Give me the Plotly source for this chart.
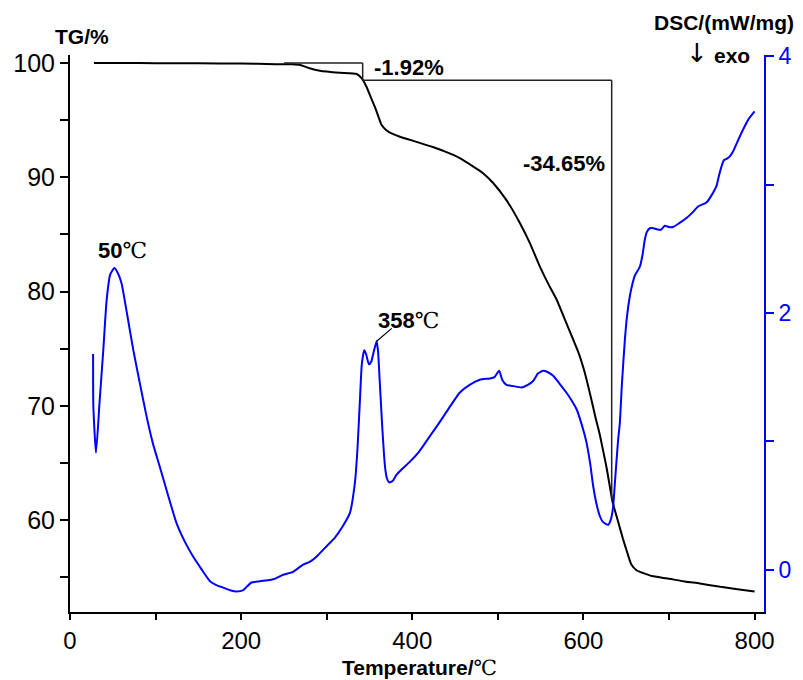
import plotly.graph_objects as go

# ---- data ----
tg_temp = [28, 60, 100, 150, 200, 240, 260, 269, 280, 292, 315, 335, 341, 346.6, 351, 356, 360, 364,
           370, 377, 385.5, 405, 424, 440, 455, 470, 482, 494.5, 510, 525.7, 537, 549, 558, 568.6,
           578, 588, 594, 599.7, 604, 609.4, 614, 619, 627, 634, 640, 646, 651, 656, 662, 670, 680,
           697, 720, 736, 760, 780, 800]
tg_val = [100.0, 100.0, 99.98, 99.97, 99.95, 99.9, 99.88, 99.82, 99.54, 99.33, 99.15, 99.04, 98.66,
          97.9, 97.1, 96.2, 95.4, 94.6, 94.1, 93.8, 93.55, 93.1, 92.65, 92.2, 91.7, 91.0, 90.4, 89.5,
          88.0, 86.0, 84.3, 82.2, 80.8, 79.3, 77.6, 75.8, 74.7, 73.4, 72.2, 70.5, 69.0, 67.5, 64.6,
          61.6, 60.0, 58.4, 57.2, 56.1, 55.6, 55.35, 55.1, 54.9, 54.6, 54.45, 54.15, 53.95, 53.75]

dsc_temp = [27.0, 27.3, 30.4, 34.5, 38.9, 42.8, 47.0, 51.8, 56.0, 60.3, 67, 74, 82, 89.6, 97, 105, 115,
            124.6, 134, 144, 153, 163.6, 171, 179, 187, 194.7, 202.5, 207, 212, 222, 233.6, 240, 249,
            260, 272.5, 280, 288, 298, 309.6, 318, 327, 333, 336, 338.8, 341, 343.8, 346, 349.3, 352,
            355, 358.3, 360, 362, 365, 368, 370, 373, 377, 381.6, 389, 397, 408, 420.6, 432, 444,
            455.6, 467, 479, 490.7, 496, 501.5, 505, 510, 518, 527.7, 535, 541.2, 547, 553, 558,
            564.6, 572, 580, 586, 592, 598, 603.6, 608, 611.4, 615, 619, 623, 628.9, 632, 634.7, 637,
            640.5, 642.5, 645, 648.4, 651, 654.2, 657, 660, 665.9, 669, 671.7, 674, 677.6, 682, 687.3,
            691, 695, 700, 704.8, 712, 720.4, 727, 734, 743.8, 750, 755.5, 758, 761.3, 764, 767.2,
            771, 775, 781, 786.6, 793, 800]
dsc_val = [1.68, 1.27, 0.91, 1.30, 1.71, 2.10, 2.30, 2.35, 2.31, 2.23, 1.98, 1.71, 1.44, 1.19, 0.98,
           0.80, 0.57, 0.36, 0.22, 0.10, 0.01, -0.09, -0.12, -0.14, -0.16, -0.17, -0.16, -0.13, -0.10,
           -0.09, -0.08, -0.07, -0.04, -0.02, 0.04, 0.06, 0.10, 0.17, 0.25, 0.33, 0.44, 0.68, 0.95,
           1.32, 1.60, 1.71, 1.68, 1.60, 1.62, 1.70, 1.78, 1.70, 1.46, 1.10, 0.81, 0.72, 0.68, 0.69,
           0.74, 0.79, 0.84, 0.92, 1.04, 1.15, 1.27, 1.38, 1.44, 1.48, 1.49, 1.50, 1.55, 1.48, 1.44,
           1.43, 1.42, 1.44, 1.47, 1.53, 1.55, 1.54, 1.51, 1.45, 1.38, 1.32, 1.25, 1.13, 0.99, 0.82,
           0.65, 0.52, 0.42, 0.37, 0.35, 0.39, 0.49, 0.70, 1.01, 1.14, 1.45, 1.79, 1.98, 2.13, 2.22,
           2.29, 2.36, 2.45, 2.57, 2.63, 2.66, 2.66, 2.65, 2.65, 2.68, 2.67, 2.67, 2.70, 2.74, 2.78,
           2.83, 2.86, 2.92, 2.99, 3.06, 3.14, 3.19, 3.20, 3.22, 3.26, 3.35, 3.43, 3.51, 3.57]

x_ticks = [0, 100, 200, 300, 400, 500, 600, 700, 800]
x_labels = ["0", "", "200", "", "400", "", "600", "", "800"]
tg_ticks = [55, 60, 65, 70, 75, 80, 85, 90, 95, 100]
tg_labels = ["", "60", "", "70", "", "80", "", "90", "", "100"]
dsc_ticks = [0, 1, 2, 3, 4]
dsc_labels = ["0", "", "2", "", "4"]

# mass-loss steps (TG axis)
step1 = dict(x0=250, x1=342, top=100.0, bottom=98.5, label="-1.92%")
step2 = dict(x1=633, bottom=61.7, label="-34.65%")
peak1 = dict(t=50, label_x=61, label_y=2.49)
peak2 = dict(t=358.3, d=1.78, lead_x=376, lead_y=1.88, label_x=396, label_y=1.94)

BLUE = "#0000FF"
FONT = "Liberation Sans, Arial, sans-serif"
TICKFONT = "Liberation Sans Narrow, Arial Narrow, Liberation Sans, Arial, sans-serif"
SERIF = "DejaVu Serif, Liberation Serif, Noto Sans CJK SC, serif"

fig = go.Figure()
fig.add_trace(go.Scatter(x=tg_temp, y=tg_val, mode="lines",
                         line=dict(color="black", width=2, shape="spline", smoothing=0.5),
                         yaxis="y", showlegend=False, hoverinfo="skip"))
fig.add_trace(go.Scatter(x=dsc_temp, y=dsc_val, mode="lines",
                         line=dict(color=BLUE, width=2, shape="spline", smoothing=0.5),
                         yaxis="y2", showlegend=False, hoverinfo="skip"))

line_style = dict(color="#222222", width=1.5)
shapes = [
    dict(type="line", xref="x", yref="y", x0=step1["x0"], x1=step1["x1"], y0=step1["top"], y1=step1["top"], line=line_style),
    dict(type="line", xref="x", yref="y", x0=step1["x1"], x1=step1["x1"], y0=step1["top"], y1=step1["bottom"], line=line_style),
    dict(type="line", xref="x", yref="y", x0=step1["x1"], x1=step2["x1"], y0=step1["bottom"], y1=step1["bottom"], line=line_style),
    dict(type="line", xref="x", yref="y", x0=step2["x1"], x1=step2["x1"], y0=step1["bottom"], y1=step2["bottom"], line=line_style),
    dict(type="line", xref="x", yref="y2", x0=peak2["t"], x1=peak2["lead_x"], y0=peak2["d"], y1=peak2["lead_y"],
         line=dict(color="black", width=1.2)),
]

annotations = [
    dict(xref="paper", yref="paper", x=0.018, y=1.034, text="<b>TG/%</b>", showarrow=False,
         font=dict(family=FONT, size=21, color="black"), xanchor="center", yanchor="middle"),
    dict(xref="paper", yref="paper", x=0.9417, y=1.059, text="<b>DSC/(mW/mg)</b>", showarrow=False,
         font=dict(family=FONT, size=21, color="black"), xanchor="center", yanchor="middle"),
    dict(xref="paper", yref="paper", x=0.903, y=1.004, text="↓", showarrow=False,
         font=dict(family="DejaVu Sans, sans-serif", size=26, color="black"), xanchor="center", yanchor="middle"),
    dict(xref="paper", yref="paper", x=0.954, y=1.0, text="<b>exo</b>", showarrow=False,
         font=dict(family=FONT, size=21, color="black"), xanchor="center", yanchor="middle"),
    dict(xref="x", yref="y", x=353, y=99.6, text="<b>" + step1["label"] + "</b>", showarrow=False,
         font=dict(family=FONT, size=22, color="black"), xanchor="left", yanchor="middle"),
    dict(xref="x", yref="y", x=628, y=91.2, text="<b>" + step2["label"] + "</b>", showarrow=False,
         font=dict(family=FONT, size=22, color="black"), xanchor="right", yanchor="middle"),
    dict(xref="x", yref="y2", x=peak1["label_x"], y=peak1["label_y"],
         text="<b>50</b><span style='font-family:" + SERIF + ";font-weight:normal'>℃</span>", showarrow=False,
         font=dict(family=FONT, size=22, color="black"), xanchor="center", yanchor="middle"),
    dict(xref="x", yref="y2", x=peak2["label_x"], y=peak2["label_y"],
         text="<b>358</b><span style='font-family:" + SERIF + ";font-weight:normal'>℃</span>", showarrow=False,
         font=dict(family=FONT, size=22, color="black"), xanchor="center", yanchor="middle"),
    dict(xref="paper", yref="paper", x=0.504, y=-0.1,
         text="<b>Temperature/</b><span style='font-family:" + SERIF + "'>℃</span>", showarrow=False,
         font=dict(family=FONT, size=21, color="black"), xanchor="center", yanchor="middle"),
]

fig.update_layout(
    width=803, height=680,
    margin=dict(l=70, r=39, t=55, b=68),
    paper_bgcolor="white", plot_bgcolor="white",
    font=dict(family=FONT, size=22, color="black"),
    xaxis=dict(range=[0, 811], showgrid=False, zeroline=False, showline=True, linecolor="black",
               linewidth=2, ticks="outside", ticklen=6, tickwidth=1.5, tickcolor="black",
               tickvals=x_ticks, ticktext=x_labels, tickfont=dict(size=24, family=TICKFONT)),
    yaxis=dict(range=[51.95, 100.7], showgrid=False, zeroline=False, showline=True, linecolor="black",
               linewidth=2, ticks="outside", ticklen=8, tickwidth=1.5, tickcolor="black",
               tickvals=tg_ticks, ticktext=tg_labels, tickfont=dict(size=25, family=TICKFONT)),
    yaxis2=dict(range=[-0.33, 4.01], overlaying="y", side="right", anchor="x", showgrid=False,
                zeroline=False, showline=True, linecolor=BLUE, linewidth=2, ticks="outside",
                ticklen=8, tickwidth=1.5, tickcolor=BLUE, tickvals=dsc_ticks, ticktext=dsc_labels,
                tickfont=dict(size=23, family=FONT, color=BLUE)),
    shapes=shapes,
    annotations=annotations,
)

fig.write_html("out.html")
